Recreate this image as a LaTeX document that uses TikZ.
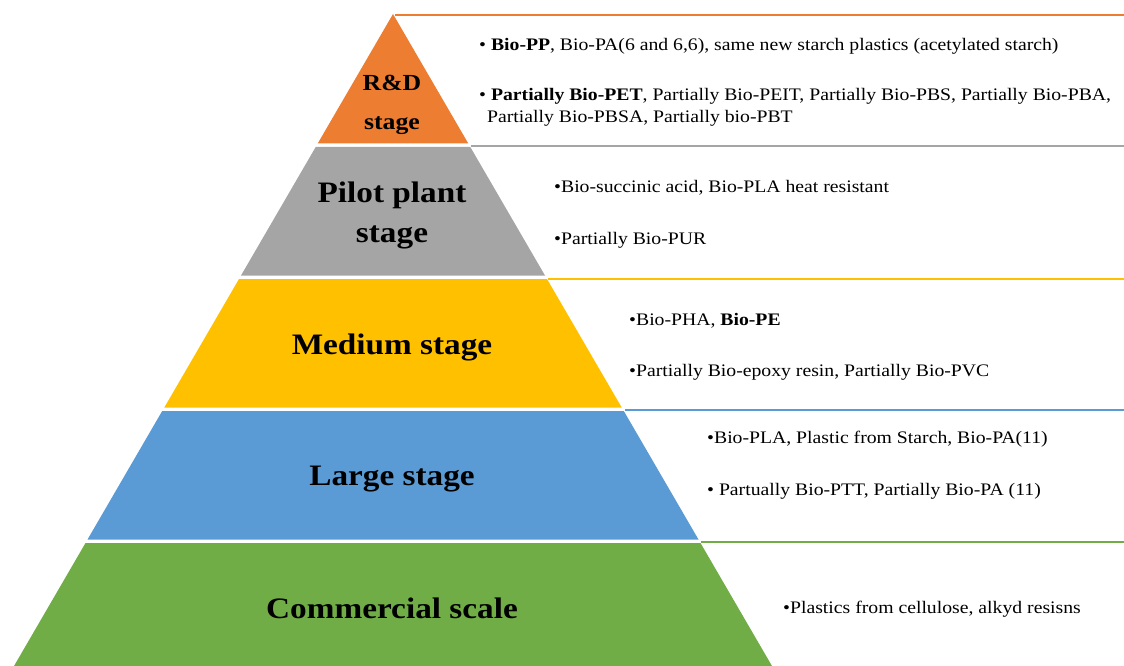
\documentclass[tikz,border=0pt]{standalone}
\usepackage{fontspec}
\setmainfont[FakeStretch=1.12]{Liberation Serif}
\definecolor{cOrange}{HTML}{ED7D31}
\definecolor{cGray}{HTML}{A5A5A5}
\definecolor{cYellow}{HTML}{FFC000}
\definecolor{cBlue}{HTML}{5B9BD5}
\definecolor{cGreen}{HTML}{70AD47}
\begin{document}
\begin{tikzpicture}[x=1pt,y=-1pt,
  layer/.style={fill=#1, draw=none},
  rule/.style={draw=#1, line width=2pt},
  stagelbl/.style={font=\bfseries\fontsize{#1}{40}\selectfont, align=center, inner sep=0pt, text=black},
  item/.style={font=\fontsize{17.6}{22}\selectfont, anchor=west, inner sep=0pt, align=left}]
\useasboundingbox (0,0) rectangle (1124,666);
% layers
\fill[layer=cOrange] (393,14) -- (468.3,143.5) -- (317.7,143.5) -- cycle;
\fill[layer=cGray] (315.7,147) -- (470.3,147) -- (545.0,275.5) -- (241.0,275.5) -- cycle;
\fill[layer=cYellow] (239.0,279) -- (547.0,279) -- (621.7,407.5) -- (164.3,407.5) -- cycle;
\fill[layer=cBlue] (162.2,411) -- (623.8,411) -- (698.5,539.5) -- (87.5,539.5) -- cycle;
\fill[layer=cGreen] (85.5,543) -- (700.5,543) -- (772,666) -- (14,666) -- cycle;
% rules
\coordinate (o1) at (395,15);   \coordinate (o2) at (1124,15);
\coordinate (g1) at (471,146.5); \coordinate (g2) at (1124,146.5);
\coordinate (y1) at (548,278.5); \coordinate (y2) at (1124,278.5);
\coordinate (b1) at (625,410);  \coordinate (b2) at (1124,410);
\coordinate (e1) at (701,542);  \coordinate (e2) at (1124,542);
\draw[rule=cOrange] (o1) -- (o2);
\draw[rule=cGray] (g1) -- (g2);
\draw[rule=cYellow] (y1) -- (y2);
\draw[rule=cBlue] (b1) -- (b2);
\draw[rule=cGreen] (e1) -- (e2);
% stage labels
\node[stagelbl=23, font=\bfseries\fontsize{23}{39}\selectfont] (rd) at (392,104.5) {R\&D\\stage};
\node[stagelbl=29.7] (pp) at (392,215.5) {Pilot plant\\stage};
\node[stagelbl=29.7] (md) at (392,347) {Medium stage};
\node[stagelbl=29.7] (lg) at (392,479) {Large stage};
\node[stagelbl=29.7] (cm) at (392,608.5) {Commercial scale};
% items
\node[item] (i1) at (479,46) {\textbullet\ \textbf{Bio-PP}, Bio-PA(6 and 6,6), same new starch plastics (acetylated starch)};
\node[item, anchor=north west] (i2) at (479,88) {\textbullet\ \textbf{Partially Bio-PET}, Partially Bio-PEIT, Partially Bio-PBS, Partially Bio-PBA,\\\hspace*{8pt}Partially Bio-PBSA, Partially bio-PBT};
\node[item] (i3) at (554,188) {\textbullet Bio-succinic acid, Bio-PLA heat resistant};
\node[item] (i4) at (554,240) {\textbullet Partially Bio-PUR};
\node[item] (i5) at (629,321) {\textbullet Bio-PHA, \textbf{Bio-PE}};
\node[item] (i6) at (629,372) {\textbullet Partially Bio-epoxy resin, Partially Bio-PVC};
\node[item] (i7) at (707,439) {\textbullet Bio-PLA, Plastic from Starch, Bio-PA(11)};
\node[item] (i8) at (707,491) {\textbullet\ Partually Bio-PTT, Partially Bio-PA (11)};
\node[item] (i9) at (783,609) {\textbullet Plastics from cellulose, alkyd resisns};
\end{tikzpicture}
\end{document}
